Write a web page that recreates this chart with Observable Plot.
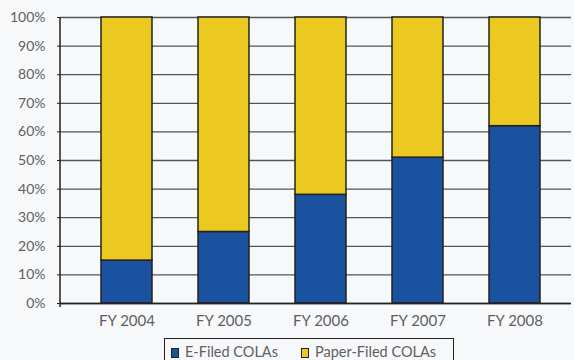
<!DOCTYPE html>
<html>
<head>
<meta charset="utf-8">
<script src="https://cdn.jsdelivr.net/npm/d3@7"></script>
<script src="https://cdn.jsdelivr.net/npm/@observablehq/plot@0.6"></script>
<style>
  html, body { margin: 0; padding: 0; background: #f7f8fa; }
  #wrap { position: relative; width: 574px; height: 360px; overflow: hidden; font-family: Lato, sans-serif; }
  #legend { position: absolute; left: 164px; top: 338px; width: 290px; height: 30px; border: 1.5px solid #222; box-sizing: border-box; background: #f7f8fa; }
  .item { position: absolute; top: 5px; font-size: 14.5px; color: #5f5f5f; white-space: nowrap; line-height: 16px; }
  .sw { display: inline-block; width: 6px; height: 8px; border: 1px solid #222; margin-right: 6px; vertical-align: -1px; }
</style>
</head>
<body>
<div id="wrap"><div id="chart"></div><div id="legend"></div></div>
<script>
const years = ["FY 2004", "FY 2005", "FY 2006", "FY 2007", "FY 2008"];
const eFiled = [15, 25, 38, 51, 62];
const paperFiled = [85, 75, 62, 49, 38];
const seriesNames = ["E-Filed COLAs", "Paper-Filed COLAs"];
const seriesColors = ["#1a52a0", "#ecc921"];
const yTicks = [0, 10, 20, 30, 40, 50, 60, 70, 80, 90, 100];

const data = years.flatMap((year, i) => [
  {year, series: seriesNames[0], value: eFiled[i]},
  {year, series: seriesNames[1], value: paperFiled[i]}
]);

const chart = Plot.plot({
  width: 574,
  height: 335,
  marginTop: 17,
  marginBottom: 32,
  marginLeft: 60,
  marginRight: 3,
  style: {fontFamily: "Lato, sans-serif", background: "transparent", color: "#5f5f5f"},
  x: {domain: years, range: [76.2, 565.0], paddingInner: 0.478, paddingOuter: 0.239},
  y: {domain: [0, 100]},
  color: {domain: seriesNames, range: seriesColors},
  marks: [
    Plot.gridY(yTicks, {stroke: "#555", strokeOpacity: 1, strokeWidth: 1.3}),
    Plot.barY(data, {x: "year", y: "value", fill: "series", stroke: "#222", strokeWidth: 1.5}),
    Plot.ruleY([0], {stroke: "#222", strokeWidth: 1.5}),
    Plot.axisY(yTicks, {tickFormat: d => d + "%", tickSize: 3, tickPadding: 12, fontSize: 14, stroke: "#222", label: null}),
    Plot.axisX({tickSize: 0, tickPadding: 12, fontSize: 15, label: null})
  ]
});
document.getElementById("chart").appendChild(chart);

// left axis line
d3.select(chart).append("line")
  .attr("x1", 60).attr("x2", 60).attr("y1", 17).attr("y2", 307)
  .attr("stroke", "#222").attr("stroke-width", 1.5);

const legend = document.getElementById("legend");
const offsets = [6, 136];
seriesNames.forEach((name, i) => {
  const it = document.createElement("div");
  it.className = "item";
  it.style.left = offsets[i] + "px";
  it.innerHTML = `<span class="sw" style="background:${seriesColors[i]}"></span>${name}`;
  legend.appendChild(it);
});
</script>
</body>
</html>
